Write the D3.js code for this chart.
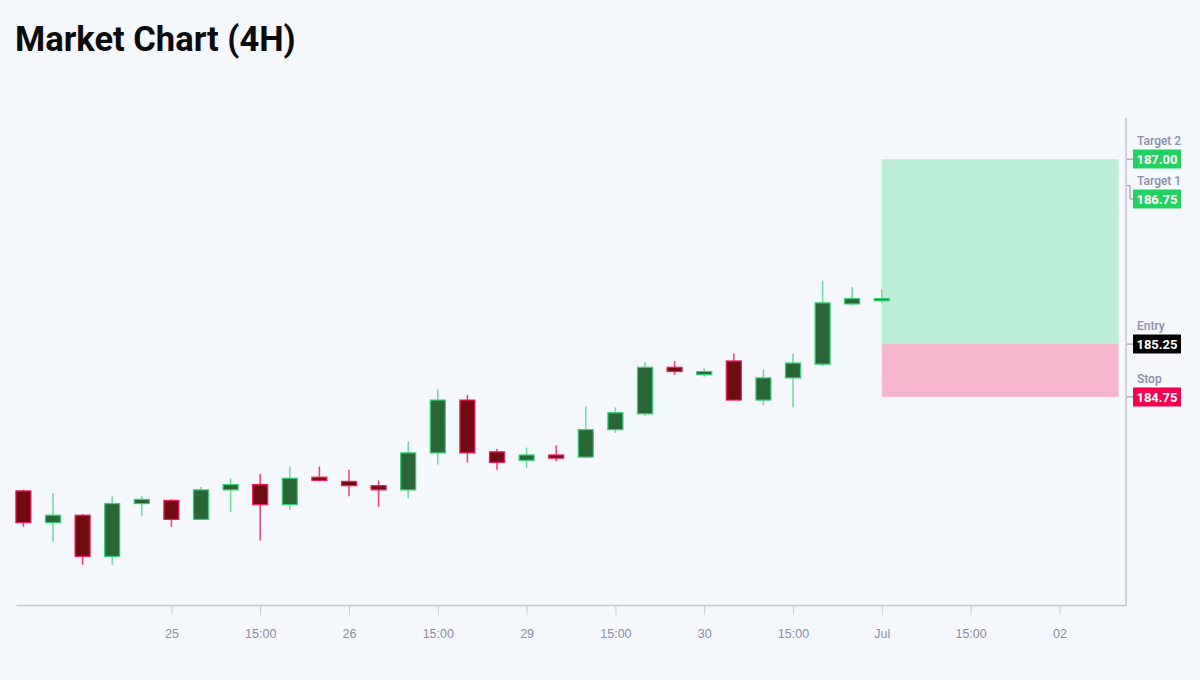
<!DOCTYPE html>
<html>
<head>
<meta charset="utf-8">
<script src="https://cdn.jsdelivr.net/npm/d3@7"></script>
<style>
  body { margin: 0; background: #f4f7fc; }
  svg { display: block; font-family: Roboto, "Noto Sans", sans-serif; }
</style>
</head>
<body>
<script>
// candle data (4H bars)
var opens  = [183.86,183.56,183.63,183.24,183.74,183.77,183.59,183.87,183.92,183.73,
              183.99,183.95,183.91,183.87,184.22,184.72,184.23,184.15,184.20,184.18,
              184.44,184.59,185.03,184.96,185.09,184.72,184.93,185.06,185.63,185.66];
var highs  = [183.87,183.84,183.64,183.81,183.81,183.78,183.90,183.98,184.02,184.09,
              184.09,184.06,183.96,184.33,184.82,184.77,184.26,184.27,184.29,184.66,
              184.65,185.08,185.09,185.02,185.16,185.01,185.16,185.85,185.79,185.77];
var lows   = [183.52,183.38,183.16,183.16,183.62,183.52,183.59,183.66,183.39,183.68,
              183.95,183.81,183.71,183.79,184.11,184.13,184.06,184.08,184.14,184.17,
              184.41,184.57,184.96,184.94,184.72,184.67,184.65,185.04,185.62,185.64];
var closes = [183.56,183.63,183.24,183.74,183.78,183.59,183.87,183.92,183.73,183.98,
              183.96,183.91,183.87,184.22,184.72,184.22,184.13,184.20,184.17,184.44,
              184.60,185.03,184.99,184.99,184.72,184.93,185.07,185.64,185.68,185.68];

var tickIdx    = [5, 8, 11, 14, 17, 20, 23, 26, 29, 32, 35];
var tickLabels = ["25","15:00","26","15:00","29","15:00","30","15:00","Jul","15:00","02"];

var levelNames  = ["Target 2","Target 1","Entry","Stop"];
var levelValues = [187.00, 186.75, 185.25, 184.75];
var levelColors = ["#22d162","#22d162","#000000","#f5004f"];

var zoneStart = 29, zoneEnd = 37;

function main(){
  var w = 1200, h = 680;
  var mLeft = 16, mRight = 1126, mTop = 118, mBottom = 605;

  var svg = d3.select("body").append("svg")
    .attr("width", w).attr("height", h);

  svg.append("rect").attr("width", w).attr("height", h).attr("fill", "#f4f7fc");

  svg.append("text")
    .text("Market Chart (4H)")
    .attr("x", 15).attr("y", 51)
    .attr("font-size", 34.5).attr("font-weight", 700)
    .attr("fill", "#0b0b0b");

  var x = d3.scaleLinear().domain([-0.25, 37.25]).range([mLeft, mRight]);
  var y = d3.scaleLinear().domain([182.78, 187.39]).range([mBottom, mTop]);

  // trade zones
  svg.append("rect")
    .attr("x", x(zoneStart)).attr("width", x(zoneEnd) - x(zoneStart))
    .attr("y", y(levelValues[0])).attr("height", y(levelValues[2]) - y(levelValues[0]))
    .attr("fill", "#bcedd6");
  svg.append("rect")
    .attr("x", x(zoneStart)).attr("width", x(zoneEnd) - x(zoneStart))
    .attr("y", y(levelValues[2])).attr("height", y(levelValues[3]) - y(levelValues[2]))
    .attr("fill", "#f5b5cd");

  // bottom axis
  var xAxis = d3.axisBottom(x)
    .tickValues(tickIdx)
    .tickFormat(function(d, i){ return tickLabels[i]; })
    .tickSizeInner(10).tickSizeOuter(0).tickPadding(14);
  var gx = svg.append("g").attr("transform", "translate(0," + mBottom + ")").call(xAxis);
  gx.select(".domain").attr("stroke", "#c3c6cf").attr("stroke-width", 1.5);
  gx.selectAll(".tick line").attr("stroke", "#c9ccd5");
  gx.selectAll(".tick text").attr("fill", "#8a8ea6").attr("font-size", 12.5)
    .attr("font-weight", 500);

  // right axis line
  svg.append("line")
    .attr("x1", mRight).attr("x2", mRight).attr("y1", mTop).attr("y2", mBottom + 0.75)
    .attr("stroke", "#c3c6cf").attr("stroke-width", 1.5);

  // candles
  var bw = 15;
  var g = svg.append("g");
  d3.range(opens.length).forEach(function(i){
    var up = closes[i] >= opens[i];
    var cx = x(i);
    g.append("line")
      .attr("x1", cx).attr("x2", cx)
      .attr("y1", y(highs[i])).attr("y2", y(lows[i]))
      .attr("stroke", up ? "#6fd89c" : "#f4387a")
      .attr("stroke-width", 1.5);
    var y0 = y(Math.max(opens[i], closes[i])), y1 = y(Math.min(opens[i], closes[i]));
    g.append("rect")
      .attr("x", cx - bw / 2).attr("width", bw)
      .attr("y", y0).attr("height", Math.max(y1 - y0, 1.5))
      .attr("fill", up ? "#2a6535" : "#700b12")
      .attr("stroke", up ? "#33cf72" : "#f5185a")
      .attr("stroke-width", 1.2);
  });

  // level labels on the right
  var labelY = [159, 199, 344, 397];
  levelValues.forEach(function(v, i){
    var ty = y(v), ly = labelY[i];
    if (Math.abs(ly - ty) > 2) {
      svg.append("path")
        .attr("d", "M" + (mRight + 1) + "," + ty + "H" + (mRight + 4) + "V" + ly + "H" + (mRight + 7))
        .attr("fill", "none").attr("stroke", "#8a8ea6");
    } else {
      svg.append("line")
        .attr("x1", mRight + 1).attr("x2", mRight + 7).attr("y1", ty).attr("y2", ty)
        .attr("stroke", "#8a8ea6");
    }
    svg.append("rect")
      .attr("x", 1133).attr("y", ly - 9.5).attr("width", 48).attr("height", 19)
      .attr("fill", levelColors[i]);
    svg.append("text")
      .text(d3.format(".2f")(v))
      .attr("x", 1157).attr("y", ly + 4.5)
      .attr("text-anchor", "middle")
      .attr("font-size", 13).attr("font-weight", 700)
      .attr("fill", "#ffffff");
    svg.append("text")
      .text(levelNames[i])
      .attr("x", 1137).attr("y", ly - 14)
      .attr("font-size", 12).attr("font-weight", 500)
      .attr("fill", "#8a8ea6");
  });
}

main();
</script>
</body>
</html>
